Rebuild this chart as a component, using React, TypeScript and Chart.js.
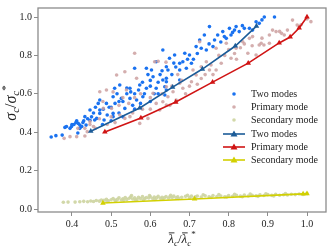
import React, { useEffect, useRef } from "react";
import { Chart, registerables } from "chart.js";
Chart.register(...registerables);

const twoModesScatter: number[][] = [
  [0.347,0.375],[0.359,0.382],[0.375,0.385],[0.382,0.425],[0.386,0.43],[0.395,0.42],[0.399,0.43],[0.405,0.44],
  [0.412,0.46],[0.416,0.446],[0.42,0.42],[0.42,0.437],[0.415,0.396],[0.428,0.45],[0.436,0.437],[0.433,0.481],
  [0.446,0.516],[0.446,0.462],[0.458,0.464],[0.463,0.472],[0.467,0.55],[0.471,0.516],[0.471,0.568],[0.471,0.498],
  [0.482,0.464],[0.488,0.55],[0.495,0.53],[0.505,0.498],[0.505,0.585],[0.505,0.481],[0.509,0.629],[0.515,0.6],
  [0.522,0.646],[0.526,0.576],[0.53,0.56],[0.535,0.524],[0.54,0.63],[0.548,0.629],[0.548,0.576],[0.555,0.54],
  [0.56,0.733],[0.565,0.568],[0.573,0.646],[0.581,0.585],[0.585,0.6],[0.59,0.629],[0.59,0.733],[0.594,0.7],
  [0.603,0.724],[0.607,0.689],[0.615,0.629],[0.615,0.767],[0.62,0.66],[0.632,0.828],[0.632,0.672],[0.637,0.637],
  [0.637,0.594],[0.641,0.741],[0.641,0.663],[0.641,0.62],[0.641,0.681],[0.645,0.724],[0.649,0.785],[0.655,0.7],
  [0.662,0.802],[0.66,0.76],[0.675,0.759],[0.675,0.724],[0.675,0.672],[0.683,0.767],[0.688,0.811],[0.692,0.733],
  [0.7,0.802],[0.705,0.759],[0.71,0.78],[0.717,0.846],[0.726,0.88],[0.73,0.837],[0.738,0.906],[0.743,0.828],
  [0.751,0.95],[0.76,0.846],[0.764,0.88],[0.772,0.906],[0.785,0.924],[0.789,0.898],[0.794,0.889],[0.802,0.941],
  [0.806,0.906],[0.815,0.932],[0.819,0.95],[0.827,0.924],[0.84,0.941],[0.853,0.941],[0.861,0.932],[0.878,0.967],
  [0.885,0.985],[0.891,1.0],[0.917,1.0],[0.478,0.44],[0.5,0.46],[0.52,0.5],[0.53,0.48],[0.56,0.52],
  [0.575,0.55],[0.6,0.56],[0.61,0.6],[0.62,0.6],
  [0.4,0.44],[0.41,0.45],[0.425,0.43],[0.43,0.46],[0.44,0.47],[0.45,0.48],[0.455,0.5],[0.46,0.53],
  [0.48,0.52],[0.49,0.49],[0.5,0.53],[0.51,0.55],[0.52,0.56],[0.54,0.6],[0.55,0.61],[0.56,0.6],
  [0.57,0.62],[0.58,0.66],[0.6,0.67],[0.6,0.64],[0.625,0.7],[0.63,0.72],[0.665,0.74],[0.695,0.78],
  [0.72,0.81],[0.75,0.86],[0.78,0.87],[0.81,0.92],[0.835,0.955],[0.87,0.975]
];

const primaryScatter: number[][] = [
  [0.38,0.368],[0.395,0.377],[0.412,0.377],[0.415,0.42],[0.433,0.42],[0.433,0.38],[0.439,0.403],[0.446,0.455],
  [0.446,0.44],[0.46,0.42],[0.471,0.611],[0.479,0.56],[0.48,0.524],[0.488,0.62],[0.49,0.44],[0.501,0.524],
  [0.505,0.61],[0.514,0.698],[0.51,0.45],[0.522,0.49],[0.535,0.715],[0.535,0.472],[0.539,0.62],[0.548,0.481],
  [0.555,0.5],[0.56,0.811],[0.565,0.681],[0.573,0.446],[0.575,0.6],[0.594,0.472],[0.6,0.52],[0.607,0.603],
  [0.611,0.767],[0.62,0.77],[0.624,0.516],[0.632,0.559],[0.64,0.765],[0.641,0.637],[0.641,0.542],[0.645,0.585],
  [0.65,0.54],[0.658,0.611],[0.666,0.568],[0.675,0.655],[0.67,0.7],[0.683,0.629],[0.69,0.6],[0.705,0.663],
  [0.709,0.724],[0.717,0.698],[0.72,0.65],[0.726,0.871],[0.73,0.741],[0.74,0.7],[0.743,0.767],[0.751,0.724],
  [0.768,0.837],[0.768,0.724],[0.775,0.8],[0.781,0.759],[0.794,0.863],[0.8,0.83],[0.806,0.785],[0.819,0.837],
  [0.83,0.84],[0.836,0.871],[0.853,0.889],[0.883,0.863],[0.904,0.863],[0.904,0.906],[0.921,0.924],[0.942,0.906],
  [0.935,0.915],[0.95,0.932],[0.963,0.984],[0.975,0.958],[0.985,0.96],[1.0,0.99],[1.01,0.976],[0.87,0.802],
  [0.849,0.811],[0.878,0.854],[0.89,0.854],[0.861,0.898],[0.885,0.89],[0.912,0.932],[0.93,0.925],
  [0.455,0.43],[0.47,0.47],[0.5,0.48],[0.52,0.54],[0.53,0.58],[0.545,0.55],[0.56,0.58],[0.58,0.52],
  [0.6,0.58],[0.615,0.55],[0.63,0.6],[0.655,0.64],[0.68,0.67],[0.7,0.64],[0.73,0.68],[0.755,0.75],
  [0.76,0.7],[0.79,0.8],[0.815,0.81],[0.82,0.78],[0.84,0.86],[0.86,0.85]
];

const secondaryScatter: number[][] = [
  [0.378,0.035],[0.39,0.036],[0.408,0.036],[0.42,0.038],[0.43,0.04],[0.44,0.038],[0.448,0.042],[0.455,0.039],
  [0.462,0.044],[0.47,0.041],[0.475,0.047],[0.482,0.045],[0.488,0.05],[0.493,0.043],[0.5,0.048],[0.505,0.055],
  [0.51,0.046],[0.516,0.05],[0.52,0.058],[0.526,0.047],[0.53,0.053],[0.536,0.06],[0.54,0.05],[0.546,0.056],
  [0.55,0.062],[0.555,0.052],[0.56,0.058],[0.566,0.05],[0.57,0.061],[0.575,0.055],[0.58,0.065],[0.586,0.054],
  [0.59,0.06],[0.596,0.057],[0.6,0.064],[0.606,0.055],[0.61,0.062],[0.616,0.058],[0.62,0.066],[0.626,0.056],
  [0.63,0.061],[0.636,0.059],[0.64,0.065],[0.646,0.057],[0.65,0.063],[0.656,0.06],[0.66,0.067],[0.666,0.058],
  [0.67,0.064],[0.68,0.061],[0.69,0.066],[0.7,0.06],[0.705,0.067],[0.715,0.063],[0.72,0.068],[0.73,0.062],
  [0.74,0.069],[0.75,0.064],[0.76,0.07],[0.77,0.065],[0.78,0.068],[0.79,0.063],[0.8,0.07],[0.81,0.066],
  [0.82,0.072],[0.83,0.067],[0.84,0.073],[0.85,0.068],[0.86,0.071],[0.87,0.069],[0.88,0.074],[0.89,0.07],
  [0.9,0.075],[0.91,0.071],[0.92,0.076],[0.93,0.072],[0.94,0.074],[0.95,0.073],[0.96,0.077],[0.97,0.075],
  [0.98,0.078],[0.99,0.076],[1.0,0.08],
  [0.49,0.04],[0.512,0.042],[0.532,0.045],[0.552,0.07],[0.562,0.046],[0.582,0.048],[0.598,0.07],[0.612,0.05],
  [0.632,0.052],[0.652,0.072],[0.672,0.055],[0.695,0.072],[0.712,0.057],[0.735,0.074],[0.755,0.06],[0.775,0.075],
  [0.795,0.062],[0.815,0.076],[0.835,0.064],[0.855,0.078],[0.875,0.066],[0.895,0.079],[0.915,0.068],[0.945,0.08]
];

const twoModesLineX = [0.448, 0.573, 0.657, 0.733, 0.817, 0.871];
const twoModesLineY = [0.405, 0.526, 0.635, 0.729, 0.849, 0.953];
const primaryLineX = [0.484, 0.576, 0.665, 0.759, 0.85, 0.929, 0.957, 0.98, 1.0];
const primaryLineY = [0.401, 0.474, 0.557, 0.661, 0.76, 0.865, 0.896, 0.943, 1.0];
const secondaryLineX = [0.479, 0.713, 0.99, 1.0];
const secondaryLineY = [0.031, 0.052, 0.079, 0.08];

const xTicks = [0.4, 0.5, 0.6, 0.7, 0.8, 0.9, 1.0];
const yTicks = [0.0, 0.2, 0.4, 0.6, 0.8, 1.0];

const legendLabels = ["Two modes", "Primary mode", "Secondary mode", "Two modes", "Primary mode", "Secondary mode"];

const C_BLUE_PT = "#1a72f0";
const C_PINK_PT = "rgba(205,160,160,0.85)";
const C_KHAKI_PT = "rgba(205,212,160,0.9)";
const C_BLUE_LN = "#1c5c98";
const C_RED_LN = "#d01414";
const C_YEL_LN = "#d2d000";
const FRAME = "#8c8c8c";
const SERIF = "'Liberation Serif', 'DejaVu Serif', serif";

const pts = (a: number[][]) => a.map(([x, y]) => ({ x, y }));
const linePts = (xs: number[], ys: number[]) => xs.map((x, i) => ({ x, y: ys[i] }));

type Seg = { t: string; size: number; dy: number; italic: boolean; bar?: boolean };

function drawMath(ctx: CanvasRenderingContext2D, segs: Seg[], cx: number, cy: number) {
  let total = 0;
  const widths = segs.map((s) => {
    ctx.font = `${s.italic ? "italic " : ""}${s.size}px ${SERIF}`;
    const w = ctx.measureText(s.t).width;
    total += w;
    return w;
  });
  let x = cx - total / 2;
  segs.forEach((s, i) => {
    ctx.font = `${s.italic ? "italic " : ""}${s.size}px ${SERIF}`;
    ctx.fillText(s.t, x, cy + s.dy);
    if (s.bar) {
      ctx.save();
      ctx.strokeStyle = "#222";
      ctx.lineWidth = 0.9;
      ctx.beginPath();
      ctx.moveTo(x + 0.5, cy + s.dy - s.size * 0.78);
      ctx.lineTo(x + widths[i] + 0.5, cy + s.dy - s.size * 0.78);
      ctx.stroke();
      ctx.restore();
    }
    x += widths[i];
  });
}

const decorPlugin = {
  id: "decor",
  afterDraw(chart: any) {
    const ctx: CanvasRenderingContext2D = chart.ctx;
    const a = chart.chartArea;
    ctx.save();
    ctx.strokeStyle = FRAME;
    ctx.lineWidth = 1.3;
    ctx.strokeRect(a.left, a.top, a.right - a.left, a.bottom - a.top);
    ctx.fillStyle = "#222";
    ctx.textBaseline = "alphabetic";
    ctx.textAlign = "left";
    ctx.save();
    ctx.translate(16, 103);
    ctx.rotate(-Math.PI / 2);
    drawMath(
      ctx,
      [
        { t: "σ", size: 16, dy: 0, italic: true },
        { t: "c", size: 11, dy: 3, italic: true },
        { t: "/", size: 16, dy: 0, italic: false },
        { t: "σ", size: 16, dy: 0, italic: true },
        { t: "c", size: 11, dy: 3, italic: true },
        { t: "*", size: 11, dy: -7, italic: false },
      ],
      0,
      0
    );
    ctx.restore();
    drawMath(
      ctx,
      [
        { t: "λ", size: 13, dy: 0, italic: true, bar: true },
        { t: "c", size: 9, dy: 2.5, italic: true },
        { t: "/", size: 13, dy: 0, italic: false },
        { t: "λ", size: 13, dy: 0, italic: true, bar: true },
        { t: "c", size: 9, dy: 2.5, italic: true },
        { t: "*", size: 9, dy: -6, italic: false },
      ],
      (a.left + a.right) / 2,
      243
    );
    const rows = [94, 107, 120, 134, 147, 160];
    const textX = 251;
    const symX = 234;
    ctx.font = `10px ${SERIF}`;
    ctx.textBaseline = "middle";
    const dotColors = [C_BLUE_PT, C_PINK_PT, C_KHAKI_PT];
    const lnColors = [C_BLUE_LN, C_RED_LN, C_YEL_LN];
    rows.forEach((ry, i) => {
      if (i < 3) {
        ctx.fillStyle = dotColors[i];
        ctx.beginPath();
        ctx.arc(symX, ry, 1.8, 0, Math.PI * 2);
        ctx.fill();
      } else {
        const c = lnColors[i - 3];
        ctx.strokeStyle = c;
        ctx.lineWidth = 1.6;
        ctx.beginPath();
        ctx.moveTo(223, ry);
        ctx.lineTo(245, ry);
        ctx.stroke();
        ctx.fillStyle = c;
        ctx.beginPath();
        ctx.moveTo(symX, ry - 3.5);
        ctx.lineTo(symX + 3.5, ry + 2.5);
        ctx.lineTo(symX - 3.5, ry + 2.5);
        ctx.closePath();
        ctx.fill();
      }
      ctx.fillStyle = "#222";
      ctx.fillText(legendLabels[i], textX, ry + 0.5);
    });
    ctx.restore();
  },
};

export default function App() {
  const ref = useRef<HTMLCanvasElement>(null);
  useEffect(() => {
    document.body.style.margin = "0";
    const lineDs = (label: string, xs: number[], ys: number[], color: string, order: number) => ({
      type: "scatter" as const,
      label,
      data: linePts(xs, ys),
      showLine: true,
      borderColor: color,
      backgroundColor: color,
      borderWidth: 1.6,
      pointStyle: "triangle",
      pointRadius: 3.2,
      pointBorderWidth: 0,
      pointBackgroundColor: color,
      order,
    });
    const dotDs = (label: string, data: number[][], color: string, order: number) => ({
      type: "scatter" as const,
      label,
      data: pts(data),
      showLine: false,
      pointRadius: 1.8,
      pointBorderWidth: 0,
      pointBackgroundColor: color,
      backgroundColor: color,
      borderColor: color,
      order,
    });
    const chart = new Chart(ref.current!, {
      type: "scatter",
      data: {
        datasets: [
          lineDs("Two modes", twoModesLineX, twoModesLineY, C_BLUE_LN, 2),
          lineDs("Primary mode", primaryLineX, primaryLineY, C_RED_LN, 1),
          lineDs("Secondary mode", secondaryLineX, secondaryLineY, C_YEL_LN, 0),
          dotDs("Two modes", twoModesScatter, C_BLUE_PT, 5),
          dotDs("Primary mode", primaryScatter, C_PINK_PT, 4),
          dotDs("Secondary mode", secondaryScatter, C_KHAKI_PT, 3),
        ] as any,
      },
      options: {
        responsive: false,
        animation: false,
        layout: { padding: { top: 8, right: 7, left: 0, bottom: 0 } },
        plugins: { legend: { display: false }, tooltip: { enabled: false } },
        scales: {
          x: {
            type: "linear",
            min: 0.3133,
            max: 1.0485,
            afterBuildTicks: (s: any) => {
              s.ticks = xTicks.map((v) => ({ value: v }));
            },
            afterFit: (s: any) => {
              s.height = 38;
            },
            border: { display: false },
            grid: { display: true, drawOnChartArea: false, drawTicks: true, tickLength: 4, color: FRAME, lineWidth: 1 },
            ticks: {
              padding: 2,
              color: "#222",
              font: { family: SERIF, size: 10 },
              callback: (v: any) => Number(v).toFixed(1),
              maxRotation: 0,
            },
          },
          y: {
            type: "linear",
            min: -0.0156,
            max: 1.047,
            afterBuildTicks: (s: any) => {
              s.ticks = yTicks.map((v) => ({ value: v }));
            },
            afterFit: (s: any) => {
              s.width = 38;
            },
            border: { display: false },
            grid: { display: true, drawOnChartArea: false, drawTicks: true, tickLength: 4, color: FRAME, lineWidth: 1 },
            ticks: {
              padding: 2,
              color: "#222",
              font: { family: SERIF, size: 10 },
              callback: (v: any) => Number(v).toFixed(1),
            },
          },
        },
      } as any,
      plugins: [decorPlugin],
    });
    return () => chart.destroy();
  }, []);
  return (
    <div style={{ width: 333, height: 250, position: "relative" }}>
      <canvas ref={ref} width={333} height={250} style={{ display: "block" }} />
    </div>
  );
}
